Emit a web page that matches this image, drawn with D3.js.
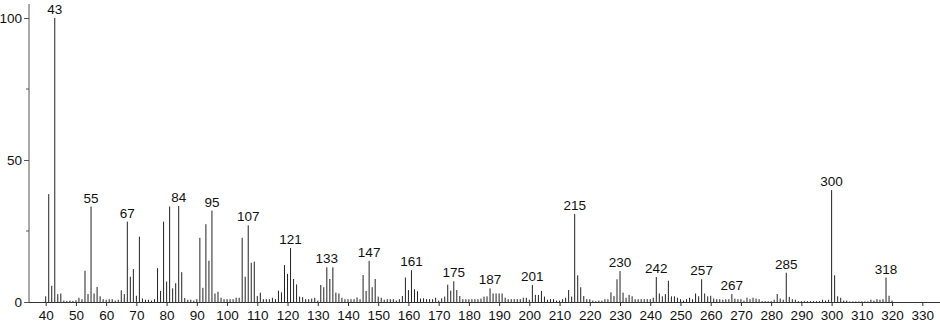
<!DOCTYPE html>
<html>
<head>
<meta charset="utf-8">
<script src="https://cdn.jsdelivr.net/npm/d3@7"></script>
<style>
html,body{margin:0;padding:0;background:#fff;}
svg{display:block;}
text{font-family:"Liberation Sans","DejaVu Sans",sans-serif;fill:#111;}
</style>
</head>
<body>
<svg id="chart" width="940" height="324"></svg>
<script>
// relative intensities by decade of m/z (first m/z of each row given by key)
const i040 = [2,38,5.7,100,2.8,3,0.5,0.4,0.5,0.4];
const i050 = [0.6,1.5,1,11,2.8,33.6,3,5.3,2,1];
const i060 = [0.8,1,1,0.5,0.8,4.1,2.8,28.3,8.9,11.6];
const i070 = [2.2,23,1.2,0.8,0.8,0.5,1,11.9,3.9,28.3];
const i080 = [7.2,33.6,4.8,6.6,33.8,10.5,1.4,0.8,0.8,0.5];
const i090 = [1,22.6,5,27.4,14.5,32.2,3,3.6,1.5,1];
const i100 = [1,1,1,1.5,1.5,22.6,8.9,27,13.8,14.2];
const i110 = [2.1,3.3,1,1,1,1.5,1,4,3.4,13];
const i120 = [9.9,19,8.1,6.2,1.9,1.7,1,1,1.2,1.5];
const i130 = [0.5,6,5.2,12.2,8.1,12.2,3.3,3,1.5,1];
const i140 = [1,1,1,1.6,1,9.5,3.9,14.5,5.2,8.1];
const i150 = [1.9,1.5,0.8,1,1,1,0.5,1,2.1,8.6];
const i160 = [4.2,11.2,4.5,3.8,1.2,1.3,1,1,1,1.5];
const i170 = [0.5,1.3,1.9,6.1,4,7.3,4.2,2.1,1,1];
const i180 = [1,1,1,1,1.2,1.9,2,4.8,3,3];
const i190 = [3,3,1.5,1,1,1,1,1,1.5,1.5];
const i200 = [0.8,6,2.5,2.5,3.9,1.9,0.8,1,1,0.5];
const i210 = [0.5,1,1.5,4.2,1.9,31,9.4,5.2,2.1,1];
const i220 = [1,0.5,0.3,0.5,0.5,1,1,3.4,2.1,8];
const i230 = [10.9,3.3,1.5,2.5,2,1,1,1,1,1];
const i240 = [1,1.5,8.8,3,2,2.8,7.5,2,2,1.5];
const i250 = [1,0.5,1,1.5,1,3,2,8,3,2];
const i260 = [2.2,1.2,1,1,0.8,1,1,2.8,1.2,1];
const i270 = [1,0.5,1.5,1,1.5,1.2,1,0.3,0.3,0.3];
const i280 = [0.3,0.8,2.8,1.2,0.8,10.3,1.8,1,0.8,0.3];
const i290 = [0.3,0.3,0.3,0.3,0.3,0.3,0.3,0.8,0.5,0.8];
const i300 = [39.4,9.4,2,1.5,0.5,0.5,0.2,0.2,0.2,0.2];
const i310 = [0.2,0.2,0.2,0.8,0.5,1,0.8,1,8.6,2.2,0.5];
const decades = [[40,i040],[50,i050],[60,i060],[70,i070],[80,i080],[90,i090],[100,i100],[110,i110],[120,i120],[130,i130],[140,i140],[150,i150],[160,i160],[170,i170],[180,i180],[190,i190],[200,i200],[210,i210],[220,i220],[230,i230],[240,i240],[250,i250],[260,i260],[270,i270],[280,i280],[290,i290],[300,i300],[310,i310]];
const labeledPeaks = [43,55,67,84,95,107,121,133,147,161,175,187,201,215,230,242,257,267,285,300,318];
const xTickValues = [40,50,60,70,80,90,100,110,120,130,140,150,160,170,180,190,200,210,220,230,240,250,260,270,280,290,300,310,320,330];
const yTickValues = [0,50,100];
const yMinorTicks = [25,75];

const peaks = [];
decades.forEach(([start, arr]) => arr.forEach((v, k) => peaks.push({m: start + k, v})));

const svg = d3.select("#chart");
const x = d3.scaleLinear().domain([40, 330]).range([45.7, 922.3]);
const y = d3.scaleLinear().domain([0, 100]).range([302, 18]);
const x0 = x.invert(29);
const x1 = x.invert(940);
const FS = 13.5;

// peaks
svg.append("g").selectAll("line").data(peaks).join("line")
  .attr("x1", d => x(d.m)).attr("x2", d => x(d.m))
  .attr("y1", y(0)).attr("y2", d => y(d.v))
  .attr("stroke", "#222").attr("stroke-width", 1);

// x axis
const gx = svg.append("g").attr("transform", `translate(0,${y(0)})`);
gx.append("line").attr("x1", x(x0)).attr("x2", x(x1)).attr("y1", 0.5).attr("y2", 0.5)
  .attr("stroke", "#333").attr("stroke-width", 1);
gx.call(d3.axisBottom(x).tickValues(xTickValues).tickFormat(d3.format("d")).tickSize(4).tickPadding(4))
  .call(g => g.select(".domain").remove())
  .call(g => g.selectAll(".tick line").attr("stroke", "#333"))
  .call(g => g.selectAll(".tick text").attr("font-size", FS).attr("fill", "#111")
    .attr("font-family", "'Liberation Sans','DejaVu Sans',sans-serif"));

// y axis
const gy = svg.append("g").attr("transform", "translate(29,0)");
gy.append("line").attr("x1", 0).attr("x2", 0).attr("y1", 4).attr("y2", y(0))
  .attr("stroke", "#555").attr("stroke-width", 1);
gy.call(d3.axisLeft(y).tickValues(yTickValues).tickSize(5).tickPadding(2))
  .call(g => g.select(".domain").remove())
  .call(g => g.selectAll(".tick line").attr("stroke", "#555"))
  .call(g => g.selectAll(".tick text").attr("font-size", FS).attr("fill", "#111")
    .attr("font-family", "'Liberation Sans','DejaVu Sans',sans-serif"));
gy.append("g").selectAll("line").data(yMinorTicks).join("line")
  .attr("x1", -3).attr("x2", 0).attr("y1", d => y(d)).attr("y2", d => y(d))
  .attr("stroke", "#555");

// peak labels
svg.append("g").selectAll("text").data(peaks.filter(d => labeledPeaks.includes(d.m))).join("text")
  .attr("x", d => x(d.m)).attr("y", d => y(d.v) - 4)
  .attr("text-anchor", "middle").attr("font-size", FS)
  .text(d => d.m);
</script>
</body>
</html>
